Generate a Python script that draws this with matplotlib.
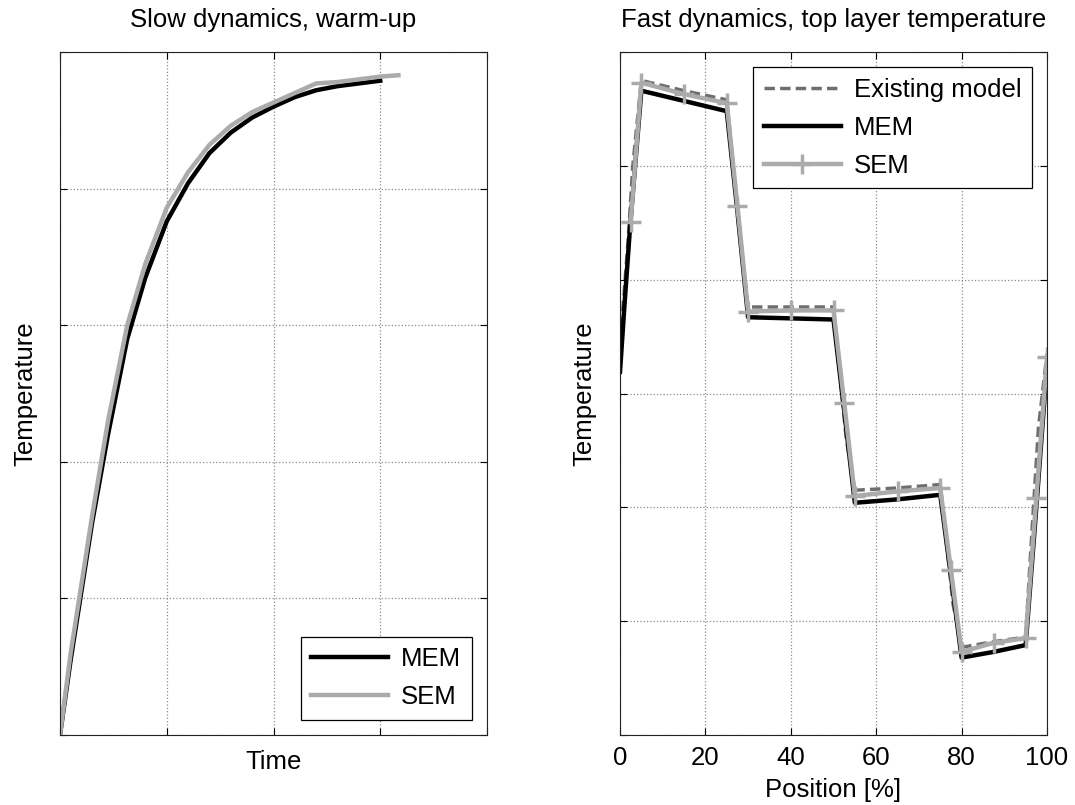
import matplotlib
matplotlib.use("Agg")
import matplotlib.pyplot as plt

plt.rcParams['font.family'] = ['Liberation Sans', 'DejaVu Sans']

# Slow dynamics (warm-up), arbitrary units
slow_sem_x = [0, 0.1, 0.2, 0.3, 0.45, 0.63, 0.8, 1.0, 1.2, 1.4, 1.6, 1.8, 2.0, 2.2, 2.4, 2.6, 2.8, 3.0, 3.17]
slow_sem_y = [0, 0.6, 1.1, 1.6, 2.3, 3.0, 3.45, 3.86, 4.12, 4.32, 4.46, 4.56, 4.63, 4.7, 4.77, 4.78, 4.8, 4.82, 4.83]
slow_mem_x = [0, 0.1, 0.2, 0.3, 0.45, 0.63, 0.8, 1.0, 1.2, 1.4, 1.6, 1.8, 2.0, 2.2, 2.4, 2.6, 2.8, 3.0]
slow_mem_y = [0, 0.55, 1.05, 1.55, 2.2, 2.9, 3.35, 3.76, 4.04, 4.26, 4.41, 4.52, 4.6, 4.67, 4.72, 4.75, 4.77, 4.79]

# Fast dynamics, top layer temperature vs position [%]
exist_x = [0, 1, 2, 3, 5, 15, 25, 26, 28, 30, 40, 50, 51, 53, 55, 65, 75, 76, 78, 80, 87.5, 95, 96, 98, 100]
exist_y = [3.45, 3.9, 4.4, 5.0, 5.75, 5.66, 5.58, 5.2, 4.4, 3.76, 3.76, 3.76, 3.35, 2.6, 2.15, 2.17, 2.2, 1.85, 1.15, 0.77, 0.82, 0.86, 1.5, 2.7, 3.35]

mem_x = [0, 1, 2.35, 5, 15, 25, 27.5, 30, 40, 50, 52.5, 55, 65, 75, 77.5, 80, 87.5, 95, 97.5, 100]
mem_y = [3.19, 3.75, 4.46, 5.66, 5.57, 5.48, 4.6, 3.67, 3.66, 3.65, 2.85, 2.04, 2.07, 2.11, 1.4, 0.68, 0.73, 0.79, 2.0, 3.25]

sem_x = [2.5, 5, 15, 25, 27.5, 30, 40, 50, 52.5, 55, 65, 75, 77.5, 80, 87.5, 95, 97.5, 100]
sem_y = [4.51, 5.73, 5.63, 5.55, 4.65, 3.72, 3.73, 3.73, 2.92, 2.10, 2.14, 2.17, 1.45, 0.73, 0.81, 0.85, 2.08, 3.32]

FS = 18.5
GREY = '#ababab'

fig = plt.figure(figsize=(10.75, 8.05), dpi=100)
ax1 = fig.add_axes([60 / 1075, 1 - 735 / 805, 427 / 1075, 683 / 805])
ax2 = fig.add_axes([620 / 1075, 1 - 735 / 805, 427 / 1075, 683 / 805])


def style(ax):
    ax.grid(True, linestyle=':', color='#8c8c8c', linewidth=0.9)
    ax.tick_params(direction='in', length=5, width=0.8, top=True, right=True,
                   labelsize=FS, pad=8)
    for s in ax.spines.values():
        s.set_linewidth(0.8)
        s.set_color('#222222')


# left panel
ax1.plot(slow_mem_x, slow_mem_y, color='black', lw=3.2, label='MEM')
ax1.plot(slow_sem_x, slow_sem_y, color=GREY, lw=3.2, label='SEM')
ax1.set_xlim(0, 4)
ax1.set_ylim(0, 5)
ax1.set_xticks(range(5))
ax1.set_yticks(range(6))
ax1.set_xticklabels([])
ax1.set_yticklabels([])
style(ax1)
ax1.set_title('Slow dynamics, warm-up', fontsize=FS, pad=18)
ax1.set_xlabel('Time', fontsize=FS, labelpad=3)
ax1.set_ylabel('Temperature', fontsize=FS, labelpad=8)
leg1 = ax1.legend(loc='lower right', fontsize=FS, handlelength=3, fancybox=False,
                  framealpha=1, edgecolor='black', borderaxespad=0.6,
                  handletextpad=0.5, labelspacing=0.55)
leg1.get_frame().set_linewidth(0.9)

# right panel
ax2.plot(exist_x, exist_y, color='#6e6e6e', lw=2.5, ls=(0, (3, 1.5)), label='Existing model')
ax2.plot(mem_x, mem_y, color='black', lw=3.2, label='MEM')
ax2.plot(sem_x, sem_y, color=GREY, lw=3.2, marker='+', markersize=15, mew=2.5, label='SEM')
ax2.set_xlim(0, 100)
ax2.set_ylim(0, 6)
ax2.set_xticks(range(0, 101, 20))
ax2.set_yticks(range(7))
ax2.set_yticklabels([])
style(ax2)
ax2.set_title('Fast dynamics, top layer temperature', fontsize=FS, pad=18)
ax2.set_xlabel('Position [%]', fontsize=FS, labelpad=6)
ax2.set_ylabel('Temperature', fontsize=FS, labelpad=9)
leg2 = ax2.legend(loc='upper right', fontsize=FS, handlelength=3, fancybox=False,
                  framealpha=1, edgecolor='black', borderaxespad=0.6,
                  handletextpad=0.5, labelspacing=0.55)
leg2.get_frame().set_linewidth(0.9)

fig.savefig('out.png', dpi=100)
